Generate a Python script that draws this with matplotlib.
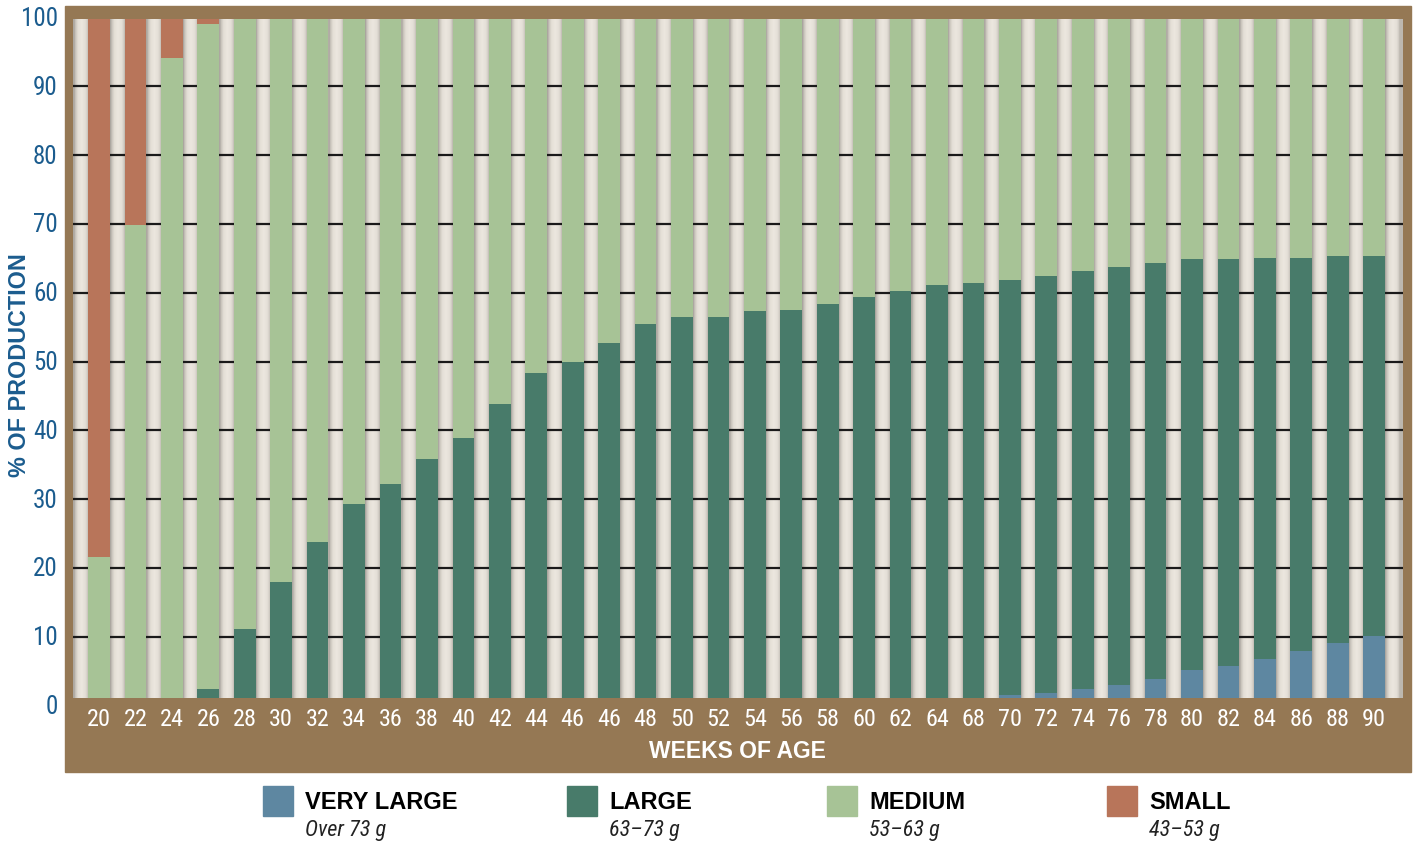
import matplotlib

matplotlib.use('Agg')
import numpy as np
import matplotlib.pyplot as plt
from matplotlib import font_manager
from matplotlib.patches import Rectangle

# data (cumulative tops of each stack)
weeks = ['20', '22', '24', '26', '28', '30', '32', '34', '36', '38', '40', '42',
         '44', '46', '46', '48', '50', '52', '54', '56', '58', '60', '62', '64',
         '68', '70', '72', '74', '76', '78', '80', '82', '84', '86', '88', '90']
very_large = [0, 0, 0, 0, 0, 0, 0, 0, 0, 0, 0, 0, 0, 0, 0, 0, 0, 0, 0, 0, 0, 0, 0, 0,
              0, 1.5, 1.8, 2.4, 3.0, 3.9, 5.1, 5.7, 6.8, 7.9, 9.1, 10.1]
large_top = [0, 0, 0, 2.4, 11.1, 17.9, 23.8, 29.3, 32.2, 35.8, 38.9, 43.8,
             48.3, 49.9, 52.7, 55.4, 56.5, 56.5, 57.3, 57.5, 58.4, 59.4, 60.2, 61.1,
             61.4, 61.8, 62.5, 63.1, 63.7, 64.3, 64.9, 64.9, 65.1, 65.0, 65.4, 65.3]
medium_top = [21.6, 69.8, 94.1, 99.1] + [100] * 32
yticks = [0, 10, 20, 30, 40, 50, 60, 70, 80, 90, 100]

sizes = ['VERY LARGE', 'LARGE', 'MEDIUM', 'SMALL']
ranges = ['Over 73 g', '63\u201373 g', '53\u201363 g', '43\u201353 g']
colors = ['#5e87a1', '#487b6a', '#a7c396', '#b8755a']

brown = '#957854'
blue = '#1b5c8e'

# pick a condensed face if one is installed
names = {f.name for f in font_manager.fontManager.ttflist}
narrow = 'DejaVu Sans'
for cand in ['Liberation Sans Narrow', 'Roboto Condensed', 'Open Sans Condensed']:
    if cand in names:
        narrow = cand
        break
bold_font = 'Liberation Sans' if 'Liberation Sans' in names else 'DejaVu Sans'

W, H = 1416, 844
fig = plt.figure(figsize=(W / 100, H / 100), dpi=100)


def fx(x):
    return x / W


def fy(y):
    return 1 - y / H


# brown frame
fig.patches.append(Rectangle((fx(65), fy(772)), fx(1411) - fx(65), fy(6) - fy(772),
                             transform=fig.transFigure, color=brown, zorder=-1))

ax = fig.add_axes([fx(73), fy(698), fx(1403) - fx(73), fy(19) - fy(698)])
xmin, xmax = -0.714, 35.79
ymin, ymax = 1.1, 99.8
ax.set_xlim(xmin, xmax)
ax.set_ylim(ymin, ymax)

# cylinder-like background columns between bars
bw = 0.596
xs = np.linspace(xmin, xmax, 6000)
g = ((xs - bw / 2) % 1) / (1 - bw)
g = np.clip(g, 0, 1)
anchors = [0.0, 0.12, 0.3, 0.55, 0.8, 0.93, 1.0]
cols = ['#9a958f', '#c6c1b9', '#e4dfd6', '#ece7df', '#e4dfd7', '#d3cec6', '#bdb8b0']
rgb = np.array([matplotlib.colors.to_rgb(c) for c in cols])
img = np.stack([np.interp(g, anchors, rgb[:, k]) for k in range(3)], axis=-1)[None, :, :]
ax.imshow(img, extent=(xmin, xmax, ymin, ymax), aspect='auto', zorder=0,
          interpolation='bilinear')

# grid lines
for v in yticks[1:-1]:
    ax.axhline(v, color='#1a1a1a', lw=1.6, zorder=1)

x = np.arange(len(weeks))
vl = np.array(very_large)
lt = np.array(large_top)
mt = np.array(medium_top)
ax.bar(x, vl, bottom=0, width=bw, color=colors[0], zorder=2)
ax.bar(x, lt - vl, bottom=vl, width=bw, color=colors[1], zorder=2)
ax.bar(x, mt - lt, bottom=lt, width=bw, color=colors[2], zorder=2)
ax.bar(x, 100 - mt, bottom=mt, width=bw, color=colors[3], zorder=2)

for s in ax.spines.values():
    s.set_visible(False)
ax.set_yticks([])
ax.set_xticks(x, weeks, color='white', fontsize=17.5, family=narrow)
ax.tick_params(axis='x', length=0, pad=7)

# y tick labels (0 and 100 sit just outside the visible limits)
for v in yticks:
    ax.text(-0.0115, v - 0.2, str(v), transform=ax.get_yaxis_transform(), ha='right',
            va='center', color=blue, fontsize=18, family=narrow, clip_on=False)

fig.text(fx(20), fy(365), '% OF PRODUCTION', rotation=90, ha='center', va='center',
         color=blue, fontsize=16.8, fontweight='bold', family=bold_font)
fig.text(fx(737.5), fy(751), 'WEEKS OF AGE', ha='center', va='center',
         color='white', fontsize=16.5, fontweight='bold', family=bold_font)

# legend
leg_x = [263, 567, 827, 1107]
for lx, name, rng, c in zip(leg_x, sizes, ranges, colors):
    fig.patches.append(Rectangle((fx(lx), fy(816)), fx(30), 30 / H,
                                 transform=fig.transFigure, color=c))
    fig.text(fx(lx + 42), fy(809), name, ha='left', va='baseline', color='black',
             fontsize=17, fontweight='bold', family=bold_font)
    fig.text(fx(lx + 42), fy(836), rng, ha='left', va='baseline', color='#222222',
             fontsize=16, style='italic', family=narrow)

fig.savefig('out.png', dpi=100)
